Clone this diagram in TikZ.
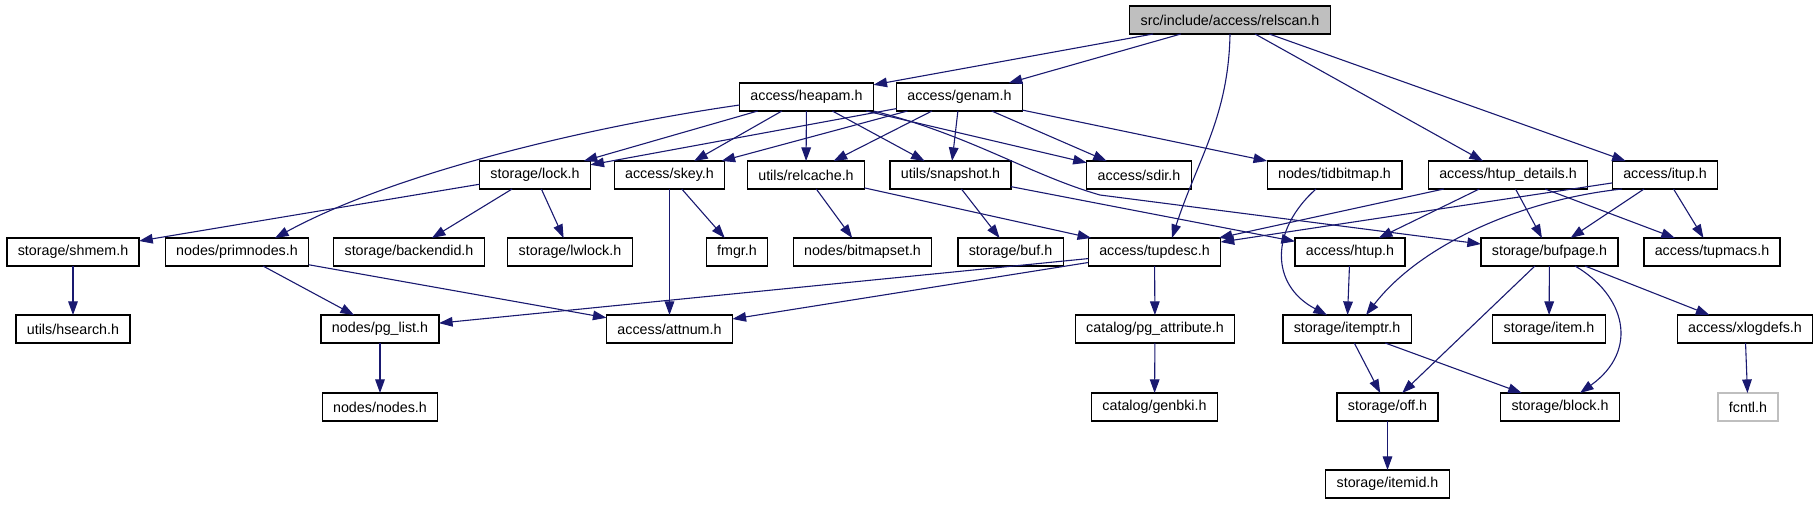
\documentclass[tikz,border=0pt]{standalone}
\usepackage{fontspec}
\setmainfont{Liberation Sans}
\usepackage{tikz}
\usetikzlibrary{arrows.meta}
\definecolor{edgeblue}{RGB}{25,25,112}
\definecolor{rootgray}{RGB}{191,191,191}

\begin{document}
\begin{tikzpicture}[x=0.5pt,y=-0.5pt,->,>={Triangle[length=6.8pt,width=4.8pt]},color=edgeblue,line width=0.55pt,main node/.style={rectangle,draw=black,text=black,line width=0.65pt,minimum height=14pt,inner xsep=5.45pt,inner ysep=0pt,outer sep=0pt,font=\fontsize{7.15}{8.5}\selectfont},ext node/.style={main node,draw=rootgray}]
    \useasboundingbox (0,0) rectangle (1820,504);
    \node[main node,fill=rootgray] (0) at (1230,20) {src/include/access/relscan.h};
    \node[main node] (1) at (806.5,97) {access/heapam.h};
    \node[main node] (2) at (959.5,97) {access/genam.h};
    \node[main node] (3) at (535,175) {storage/lock.h};
    \node[main node] (4) at (669.5,175) {access/skey.h};
    \node[main node] (5) at (806,175) {utils/relcache.h};
    \node[main node] (6) at (950.5,175) {utils/snapshot.h};
    \node[main node] (7) at (1139,175) {access/sdir.h};
    \node[main node] (8) at (1334.5,175) {nodes/tidbitmap.h};
    \node[main node] (9) at (1508,175) {access/htup\_details.h};
    \node[main node] (10) at (1665,175) {access/itup.h};
    \node[main node] (11) at (73,252) {storage/shmem.h};
    \node[main node] (12) at (237,252) {nodes/primnodes.h};
    \node[main node] (13) at (409,252) {storage/backendid.h};
    \node[main node] (14) at (570,252) {storage/lwlock.h};
    \node[main node] (15) at (737,252) {fmgr.h};
    \node[main node] (16) at (862.5,252) {nodes/bitmapset.h};
    \node[main node] (17) at (1010.5,252) {storage/buf.h};
    \node[main node] (18) at (1154.5,252) {access/tupdesc.h};
    \node[main node] (19) at (1350,252) {access/htup.h};
    \node[main node] (20) at (1549.5,252) {storage/bufpage.h};
    \node[main node] (21) at (1712,252) {access/tupmacs.h};
    \node[main node] (22) at (73,329) {utils/hsearch.h};
    \node[main node] (23) at (380,329) {nodes/pg\_list.h};
    \node[main node] (24) at (669.5,329) {access/attnum.h};
    \node[main node] (25) at (1155,329) {catalog/pg\_attribute.h};
    \node[main node] (26) at (1347,329) {storage/itemptr.h};
    \node[main node] (27) at (1549,329) {storage/item.h};
    \node[main node] (28) at (1745,329) {access/xlogdefs.h};
    \node[main node] (29) at (380,407) {nodes/nodes.h};
    \node[main node] (30) at (1154.5,407) {catalog/genbki.h};
    \node[main node] (31) at (1387.5,407) {storage/off.h};
    \node[main node] (32) at (1560,407) {storage/block.h};
    \node[ext node] (33) at (1748,407) {fcntl.h};
    \node[main node] (34) at (1387.5,484) {storage/itemid.h};

    \path (0) edge (1) edge (2) edge (9) edge (10);
    \draw (0.south) to[out=-91,in=72] ([xshift=8.75pt]18.north);
    \path (1) edge (3) edge (4) edge (5) edge (6) edge (7);
    \draw ([yshift=-4pt]1.west) .. controls (600,125) and (400,170) .. ([xshift=19pt]12.north);
    \draw (1.south east) .. controls (970,135) and (1030,175) .. (1100,195) -- ([yshift=4pt]20.west);
    \path (2) edge (3) edge (4) edge (5) edge (6) edge (7) edge (8);
    \path (3) edge (11) edge (13) edge (14);
    \path (4) edge (15) edge (24);
    \path (5) edge (16) edge (18);
    \path (6) edge (17) edge (19);
    \draw ([xshift=-9.25pt]8.south) .. controls (1270,230) and (1270,285) .. ([xshift=-10pt]26.north);
    \path (9) edge (18) edge (19) edge (20) edge (21);
    \path (10) edge (18) edge (20) edge (21);
    \draw ([xshift=-21.5pt]10.south) .. controls (1520,200) and (1420,245) .. ([xshift=9.5pt]26.north);
    \path (11) edge (22);
    \path (12) edge (23) edge (24);
    \path (18) edge (23) edge (24) edge (25);
    \path (19) edge (26);
    \path (20) edge (31) edge (27) edge (28);
    \draw ([xshift=12.75pt]20.south) .. controls (1625,295) and (1640,350) .. ([xshift=10pt]32.north);
    \path (23) edge (29);
    \path (25) edge (30);
    \path (26) edge (31) edge (32);
    \path (28) edge (33);
    \path (31) edge (34);
  \end{tikzpicture}
\end{document}
